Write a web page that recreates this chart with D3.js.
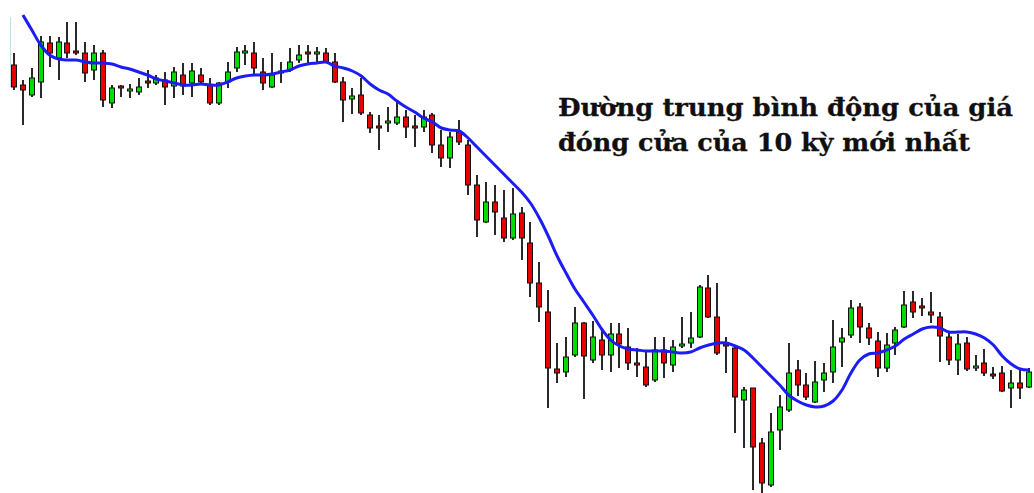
<!DOCTYPE html>
<html>
<head>
	<meta charset="utf-8">
	<title>Moving average</title>
	<script src="https://d3js.org/d3.v7.min.js"></script>
<style>
	body { margin: 0; background: #fff; }
	svg { display: block; }
	.wick { stroke: #2a2a2a; stroke-width: 2; }
	.body { stroke: #111; stroke-width: 1; }
	.ma { fill: none; stroke: #1c1cf5; stroke-width: 3; }
	.note { font-family: "DejaVu Serif", serif; font-weight: bold; fill: #101010; stroke: #101010; stroke-width: 0.3; }
</style>
</head>
<body>

<script>

// candle values (arbitrary price units)
var open = [435,415,405,418,457,442,457,449,447,430,447,397,414,409,408,419,417,420,414,425,417,425,415,397,418,432,447,447,428,413,
            429,430,440,448,446,447,438,418,401,405,385,374,377,377,383,374,373,385,355,342,368,355,315,278,298,282,262,287,257,217,
            188,131,128,145,177,140,160,145,166,153,137,133,120,150,135,154,157,163,212,183,156,152,100,112,57,15,70,90,130,115,
            98,120,128,158,165,193,172,159,132,157,173,198,194,188,183,163,140,157,132,137,126,127,112,117,113];
var high = [447,420,432,464,464,463,478,478,458,455,450,415,415,416,422,430,425,428,433,437,437,432,422,418,438,453,455,458,442,447,
            438,452,455,455,453,452,447,423,412,422,388,385,393,398,390,385,390,387,370,368,380,360,325,318,315,310,312,293,278,238,
            210,157,163,193,178,179,170,177,177,172,152,150,163,163,160,183,188,215,225,217,163,153,113,112,62,87,105,157,140,127,
            139,137,180,172,200,197,177,168,167,173,209,209,202,208,188,168,166,163,145,151,133,134,130,130,132];
var low = [410,375,403,402,433,420,442,445,418,420,393,392,403,402,405,412,415,395,402,405,403,415,395,395,412,428,435,425,410,412,
           417,428,437,437,438,437,417,378,386,385,367,350,368,375,362,353,368,347,333,332,355,305,263,277,265,258,260,240,203,178,
           92,117,123,143,101,137,130,128,132,130,123,113,118,122,128,152,152,162,182,145,127,67,52,10,7,13,50,88,104,100,
           97,108,117,133,162,157,155,123,128,145,172,182,184,177,138,135,125,129,129,124,121,108,92,101,112];
var close = [413,410,422,458,447,458,447,447,427,447,400,412,412,411,413,417,422,413,428,414,429,418,397,417,428,448,449,432,417,425,
             427,438,445,446,448,438,418,400,404,387,372,372,379,383,373,372,383,355,342,363,358,315,280,298,288,262,286,262,217,193,
             132,127,143,177,144,163,145,166,156,137,135,115,150,137,153,156,162,213,183,147,154,103,110,53,17,68,93,127,115,103,
             118,127,153,162,192,173,162,132,155,170,195,188,192,185,164,140,156,131,134,127,124,109,117,112,128];

// 10 period moving average line as drawn (first candle has no value)
var ma10 = [null,485,470,455,445,441,440,440,438,437,437,436,433,431,428,425,421,419,417,415,415,416,415,415,418,422,424,425,425,426,
            428,430,434,436,437,438,434,432,429,424,416,410,406,399,393,388,382,378,372,370,369,362,353,344,335,326,317,308,297,282,
            264,244,227,211,198,185,171,160,154,151,150,149,149,149,148,147,148,152,155,157,157,154,150,142,133,124,115,105,99,95,
            93,94,99,110,127,140,146,147,150,154,161,166,171,173,172,168,168,168,166,162,155,144,136,131,130];

var noteLines = ["Đường trung bình động của giá", "đóng cửa của 10 kỳ mới nhất"];

var width = 1034,
    height = 493;

var candles = open.map(function(o, i) {
  return { i: i, open: o, high: high[i], low: low[i], close: close[i] };
});

var x = d3.scaleLinear()
    .domain([0, candles.length - 1])
    .range([14, 1029]);

var y = d3.scaleLinear()
    .domain([7, 500])
    .range([493, 0]);

var svg = d3.select("body").append("svg")
    .attr("width", width)
    .attr("height", height);

// faint edge line left over at the left of the crop
svg.append("line")
    .attr("x1", 10.5).attr("x2", 10.5)
    .attr("y1", 17).attr("y2", 87)
    .attr("stroke", "#bfe3ea")
    .attr("stroke-width", 1);

var bodyW = 6;

var g = svg.selectAll(".candle")
    .data(candles)
  .enter().append("g")
    .attr("class", "candle");

g.append("line")
    .attr("class", "wick")
    .attr("x1", function(d) { return Math.round(x(d.i)); })
    .attr("x2", function(d) { return Math.round(x(d.i)); })
    .attr("y1", function(d) { return y(d.high); })
    .attr("y2", function(d) { return y(d.low); });

g.append("rect")
    .attr("class", "body")
    .attr("x", function(d) { return Math.round(x(d.i)) - bodyW / 2 + 0.5; })
    .attr("y", function(d) { return y(Math.max(d.open, d.close)); })
    .attr("width", bodyW - 1)
    .attr("height", function(d) { return Math.max(2, Math.abs(y(d.open) - y(d.close))); })
    .style("fill", function(d) { return d.close >= d.open ? "#00dc00" : "#e80000"; });

var line = d3.line()
    .defined(function(d) { return d != null; })
    .x(function(d, i) { return x(i); })
    .y(function(d) { return y(d); })
    .curve(d3.curveCatmullRom);

svg.append("path")
    .datum(ma10)
    .attr("class", "ma")
    .attr("d", line);

svg.selectAll(".note")
    .data(noteLines)
  .enter().append("text")
    .attr("class", "note")
    .attr("x", 558)
    .attr("y", function(d, i) { return 116 + i * 35; })
    .attr("font-size", 25)
    .attr("textLength", function(d, i) { return i === 0 ? 455 : 412; })
    .attr("lengthAdjust", "spacingAndGlyphs")
    .text(function(d) { return d; });

</script>

</body>
</html>
